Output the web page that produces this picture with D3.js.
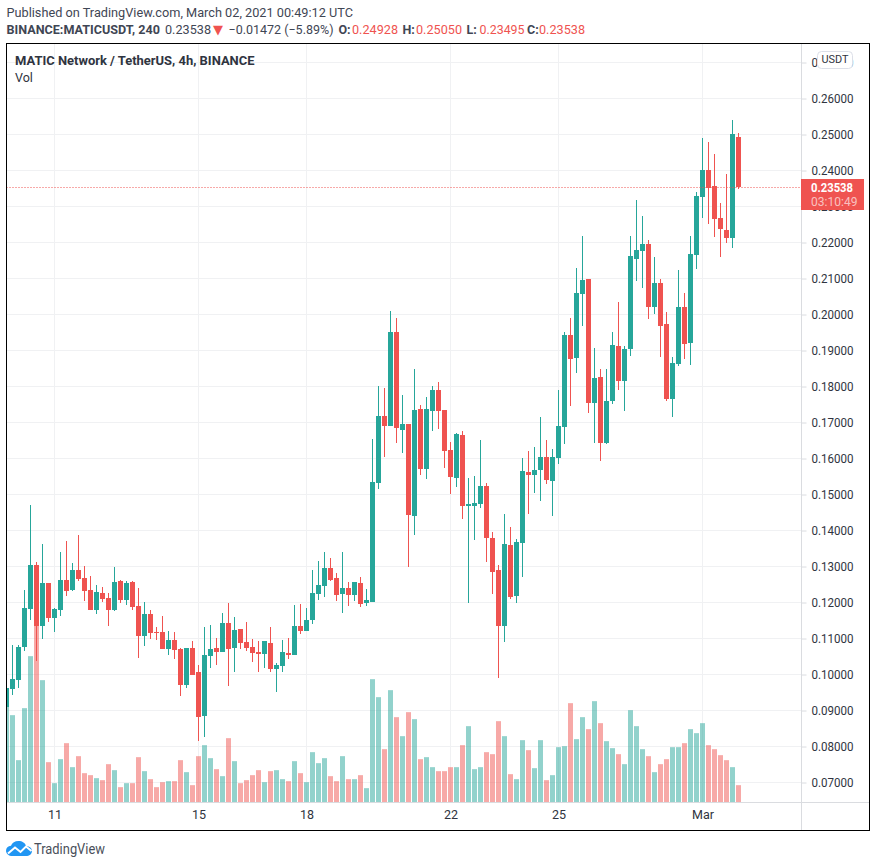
<!DOCTYPE html>
<html>
<head>
<meta charset="utf-8">
<script src="https://cdn.jsdelivr.net/npm/d3@7"></script>
<style>
  html, body { margin: 0; background: #fff; }
  svg { display: block; }
  text { font-family: Roboto, "Noto Sans", sans-serif; fill: #131722; }
</style>
</head>
<body>
<div id="chart"></div>
<script>
// 4h candles, oldest first
const opens = [
  .0910,.0959,.0984,.1076,.1181,.1304,.1134,.1254,.1156,.1179,
  .1262,.1234,.1290,.1268,.1234,.1179,.1226,.1212,.1179,.1259,
  .1206,.1256,.1190,.1106,.1168,.1118,.1118,.1070,.1095,.1070,
  .0970,.1073,.1006,.0884,.1051,.1073,.1062,.1142,.1073,.1126,
  .1090,.1076,.1062,.1056,.1087,.1015,.1023,.1059,.1054,.1134,
  .1120,.1151,.1223,.1245,.1295,.1268,.1223,.1240,.1220,.1254,
  .1198,.1201,.1531,.1718,.1690,.1951,.1679,.1695,.1440,.1737,
  .1570,.1731,.1790,.1734,.1623,.1545,.1665,.1468,.1468,.1473,
  .1523,.1379,.1290,.1134,.1359,.1218,.1365,.1562,.1554,.1568,
  .1604,.1537,.1601,.1687,.1943,.1879,.2056,.2098,.1754,.1826,
  .1643,.1759,.1912,.1815,.1904,.2154,.2176,.2195,.2020,.2087,
  .1973,.1765,.1862,.2020,.1920,.2165,.2326,.2401,.2356,.2268,
  .2234,.2212,.24928]
const highs = [
  .0975,.1081,.1081,.1234,.1470,.1312,.1362,.1254,.1184,.1340,
  .1370,.1309,.1387,.1301,.1273,.1248,.1243,.1226,.1298,.1262,
  .1259,.1259,.1240,.1201,.1179,.1131,.1162,.1120,.1118,.1073,
  .1073,.1093,.1026,.1131,.1137,.1101,.1170,.1198,.1159,.1126,
  .1145,.1098,.1093,.1093,.1131,.1031,.1095,.1101,.1193,.1195,
  .1184,.1290,.1315,.1340,.1323,.1281,.1340,.1256,.1256,.1270,
  .1237,.1654,.1801,.1795,.2009,.1990,.1776,.1695,.1848,.1748,
  .1770,.1801,.1812,.1734,.1645,.1670,.1676,.1545,.1551,.1651,
  .1531,.1395,.1304,.1445,.1409,.1376,.1601,.1620,.1631,.1715,
  .1651,.1626,.1790,.1951,.1990,.2129,.2218,.2098,.1906,.1848,
  .1848,.1951,.2034,.1912,.2218,.2318,.2273,.2206,.2159,.2098,
  .2006,.1881,.2123,.2059,.2218,.2340,.2490,.2479,.2445,.2309,
  .2390,.2540,.25050]
const lows = [
  .0905,.0944,.0962,.1065,.1151,.1037,.1098,.1145,.1118,.1162,
  .1218,.1231,.1259,.1204,.1179,.1168,.1201,.1134,.1176,.1198,
  .1193,.1179,.1045,.1079,.1098,.1095,.1070,.1054,.1043,.0940,
  .0962,.0998,.0816,.0826,.1018,.1026,.1062,.0968,.1006,.1070,
  .1065,.1034,.1006,.1018,.1007,.0951,.1006,.1043,.1054,.1112,
  .1120,.1140,.1206,.1215,.1259,.1204,.1170,.1190,.1204,.1187,
  .1190,.1201,.1515,.1604,.1690,.1643,.1615,.1298,.1387,.1554,
  .1543,.1676,.1681,.1573,.1501,.1520,.1431,.1198,.1373,.1462,
  .1312,.1223,.0990,.1090,.1209,.1198,.1270,.1445,.1504,.1481,
  .1529,.1440,.1584,.1640,.1745,.1837,.1968,.1726,.1643,.1593,
  .1640,.1751,.1790,.1731,.1884,.2093,.2073,.1987,.2001,.1881,
  .1759,.1715,.1856,.1876,.1859,.2126,.2268,.2251,.2215,.2159,
  .2198,.2184,.23495]
const closes = [
  .0962,.0987,.1076,.1184,.1304,.1134,.1254,.1156,.1181,.1262,
  .1231,.1290,.1265,.1231,.1179,.1229,.1209,.1179,.1256,.1206,
  .1254,.1187,.1106,.1168,.1115,.1115,.1070,.1095,.1068,.0970,
  .1073,.0998,.0881,.1054,.1070,.1062,.1142,.1070,.1123,.1087,
  .1073,.1059,.1056,.1093,.1015,.1026,.1062,.1054,.1134,.1120,
  .1151,.1226,.1248,.1295,.1262,.1220,.1240,.1220,.1256,.1195,
  .1206,.1534,.1718,.1690,.1951,.1684,.1695,.1443,.1734,.1570,
  .1737,.1790,.1731,.1620,.1548,.1668,.1468,.1473,.1476,.1523,
  .1379,.1284,.1134,.1362,.1215,.1368,.1565,.1554,.1568,.1604,
  .1540,.1604,.1690,.1943,.1876,.2059,.2095,.1754,.1823,.1643,
  .1759,.1915,.1815,.1904,.2162,.2179,.2195,.2020,.2087,.1968,
  .1765,.1865,.2020,.1918,.2168,.2329,.2401,.2351,.2265,.2237,
  .2212,.2501,.23538]
const volumes = [
  290,262,127,283,439,540,367,121,58,130,
  178,106,139,88,82,73,67,115,97,46,
  58,58,136,94,70,46,61,64,64,127,
  91,52,139,172,133,100,79,193,124,58,
  67,82,97,61,94,97,70,64,124,88,
  61,151,118,133,79,64,139,70,70,82,
  43,370,316,160,337,256,199,271,250,130,
  136,106,94,94,106,106,172,229,100,106,
  151,145,244,199,85,70,187,157,103,187,
  67,82,166,169,298,190,256,220,304,238,
  184,163,145,115,277,229,160,139,91,115,
  130,166,166,178,220,208,238,172,160,142,
  127,106,52]

const priceTicks = [.07,.08,.09,.10,.11,.12,.13,.14,.15,.16,.17,.18,.19,.20,.21,.22,.23,.24,.25,.26,.27]
const dateTicks = [8,32,50,74,92,116]
const dateLabels = ['11','15','18','22','25','Mar']
const lastPrice = .23538

const UP = '#26a69a'
const DOWN = '#ef5350'
const GRID = '#f0f1f3'
const AXIS = '#dadce0'
const LABEL = '#2f3440'

const W = 876, H = 867
const frame = {left: 6.5, top: 43.5, right: 869.5, bottom: 830.5}
const axisX = 801.5, axisY = 802.5

const svg = d3.select('#chart').append('svg').attr('width', W).attr('height', H)

const x = d3.scaleLinear().domain([0, opens.length - 1]).range([6.5, 738.5])
const y = d3.scaleLinear().domain([.07, .26]).range([782.5, 98.5])
const yVol = d3.scaleLinear().domain([0, 600]).range([axisY, axisY - 200])
const py = p => Math.round(y(p))

svg.append('clipPath').attr('id', 'pane').append('rect')
  .attr('x', frame.left).attr('y', frame.top)
  .attr('width', axisX - frame.left).attr('height', axisY - frame.top)

// grid
const grid = svg.append('g').attr('stroke', GRID)
grid.selectAll('.h').data(priceTicks).enter().append('line')
  .attr('x1', frame.left).attr('x2', axisX)
  .attr('y1', d => y(d)).attr('y2', d => y(d))
grid.selectAll('.v').data(dateTicks).enter().append('line')
  .attr('x1', d => x(d)).attr('x2', d => x(d))
  .attr('y1', frame.top).attr('y2', axisY)

const pane = svg.append('g').attr('clip-path', 'url(#pane)')
const idx = d3.range(opens.length)
const color = i => closes[i] >= opens[i] ? UP : DOWN

// volume sits under the candles
pane.selectAll('.vol').data(idx).enter().append('rect')
  .attr('x', i => x(i) - 2.5).attr('width', 5)
  .attr('y', i => yVol(volumes[i])).attr('height', i => axisY - yVol(volumes[i]))
  .attr('fill', color).attr('fill-opacity', .5)

pane.selectAll('.wick').data(idx).enter().append('rect')
  .attr('x', i => x(i) - .5).attr('width', 1)
  .attr('y', i => py(highs[i])).attr('height', i => py(lows[i]) - py(highs[i]))
  .attr('fill', color)

pane.selectAll('.body').data(idx).enter().append('rect')
  .attr('x', i => x(i) - 2.5).attr('width', 5)
  .attr('y', i => py(Math.max(opens[i], closes[i])))
  .attr('height', i => Math.max(1, py(Math.min(opens[i], closes[i])) - py(Math.max(opens[i], closes[i]))))
  .attr('fill', color)

// last price line
const lastY = Math.floor(y(lastPrice)) + .5
svg.append('line')
  .attr('x1', frame.left).attr('x2', axisX)
  .attr('y1', lastY).attr('y2', lastY)
  .attr('stroke', DOWN).attr('stroke-dasharray', '1,2')

// price axis
const priceAxis = d3.axisRight(y).tickValues(priceTicks)
  .tickFormat(d3.format('.5f')).tickSize(5).tickPadding(5)
const gp = svg.append('g').attr('transform', `translate(${axisX},0)`).call(priceAxis)
gp.select('.domain').remove()
gp.selectAll('.tick line').attr('stroke', AXIS)
gp.selectAll('.tick text').attr('font-size', 12).attr('textLength', 42)
  .attr('lengthAdjust', 'spacingAndGlyphs').style('fill', LABEL)

// time axis
const timeAxis = d3.axisBottom(x).tickValues(dateTicks)
  .tickFormat((d, i) => dateLabels[i]).tickSize(0).tickPadding(8)
const gt = svg.append('g').attr('transform', `translate(0,${axisY})`).call(timeAxis)
gt.select('.domain').remove()
gt.selectAll('.tick text').attr('font-size', 12.5).style('fill', LABEL)

svg.append('line').attr('x1', frame.left).attr('x2', frame.right)
  .attr('y1', axisY).attr('y2', axisY).attr('stroke', AXIS)
svg.append('line').attr('x1', axisX).attr('x2', axisX)
  .attr('y1', frame.top).attr('y2', frame.bottom).attr('stroke', AXIS)

// price tag
svg.append('rect').attr('x', 801).attr('y', 179).attr('width', 63).attr('height', 31).attr('fill', DOWN)
svg.append('text').attr('x', 811).attr('y', 192).attr('font-size', 12).attr('font-weight', 700)
  .attr('textLength', 42).attr('lengthAdjust', 'spacingAndGlyphs')
  .style('fill', '#fff').text(d3.format('.5f')(lastPrice))
svg.append('text').attr('x', 811).attr('y', 206).attr('font-size', 12.5)
  .attr('textLength', 46.5).attr('lengthAdjust', 'spacingAndGlyphs')
  .style('fill', '#fff').style('fill-opacity', .65).text('03:10:49')

// currency button
svg.append('rect').attr('x', 817.5).attr('y', 51.5).attr('width', 35).attr('height', 17).attr('rx', 4)
  .attr('fill', '#fff').attr('stroke', '#dcdfe8')
svg.append('text').attr('x', 835).attr('y', 62.5).attr('text-anchor', 'middle')
  .attr('font-size', 11.5).attr('textLength', 27).attr('lengthAdjust', 'spacingAndGlyphs')
  .style('fill', LABEL).text('USDT')

svg.append('rect')
  .attr('x', frame.left).attr('y', frame.top)
  .attr('width', frame.right - frame.left).attr('height', frame.bottom - frame.top)
  .attr('fill', 'none').attr('stroke', '#000')

// header
const HEAD = '#3f4654'
svg.append('text').attr('x', 6.5).attr('y', 16.5).attr('font-size', 12.5).style('fill', HEAD)
  .attr('textLength', 346.5).attr('lengthAdjust', 'spacingAndGlyphs')
  .text('Published on TradingView.com, March 02, 2021 00:49:12 UTC')

const headerBits = [
  {x: 6.5, t: 'BINANCE:MATICUSDT, 240', b: 1, c: HEAD, w: 153.5},
  {x: 165, t: '0.23538', c: HEAD, w: 46},
  {x: 213, t: '▼', c: DOWN, s: 13, f: 'DejaVu Sans'},
  {x: 228.5, t: '−0.01472 (−5.89%)', c: HEAD, w: 105},
  {x: 338.5, t: 'O:', b: 1, c: HEAD},
  {x: 352, t: '0.24928', c: DOWN, w: 46},
  {x: 402.5, t: 'H:', b: 1, c: HEAD},
  {x: 416, t: '0.25050', c: DOWN, w: 46},
  {x: 466.5, t: 'L:', b: 1, c: HEAD},
  {x: 479.5, t: '0.23495', c: DOWN, w: 45},
  {x: 527, t: 'C:', b: 1, c: HEAD},
  {x: 539, t: '0.23538', c: DOWN, w: 46}
]
svg.selectAll('.hb').data(headerBits).enter().append('text')
  .attr('x', d => d.x).attr('y', 34).attr('font-size', d => d.s || 12.5)
  .attr('font-weight', d => d.b ? 700 : 400)
  .attr('textLength', d => d.w || null)
  .attr('lengthAdjust', d => d.w ? 'spacingAndGlyphs' : null)
  .style('font-family', d => d.f || null)
  .style('fill', d => d.c).text(d => d.t)

svg.append('text').attr('x', 15).attr('y', 65).attr('font-size', 12.5).attr('font-weight', 700)
  .attr('textLength', 239.5).attr('lengthAdjust', 'spacingAndGlyphs').style('fill', LABEL)
  .text('MATIC Network / TetherUS, 4h, BINANCE')
svg.append('text').attr('x', 15).attr('y', 82).attr('font-size', 12.5).style('fill', LABEL).text('Vol')

// logo
const logo = svg.append('g').attr('transform', 'translate(6,841)')
logo.append('path').attr('fill', '#2196f3')
  .attr('d', 'M6.5 15C2.8 15 0 12.7 0 9.7C0 7 2 5.1 5 4.8C6 2 9 0 12.5 0C16.2 0 19.2 2 20.2 5C23.6 5.2 26 7.3 26 10C26 13 23.3 15 20 15Z')
logo.append('path').attr('fill', 'none').attr('stroke', '#fff').attr('stroke-width', 2)
  .attr('d', 'M2 12.5L9 6.5L14.5 11L20 5.5L25.5 10')
svg.append('text').attr('x', 34).attr('y', 853.5).attr('font-size', 14)
  .attr('textLength', 71).attr('lengthAdjust', 'spacingAndGlyphs')
  .style('fill', '#4a4f5a').text('TradingView')
</script>
</body>
</html>
